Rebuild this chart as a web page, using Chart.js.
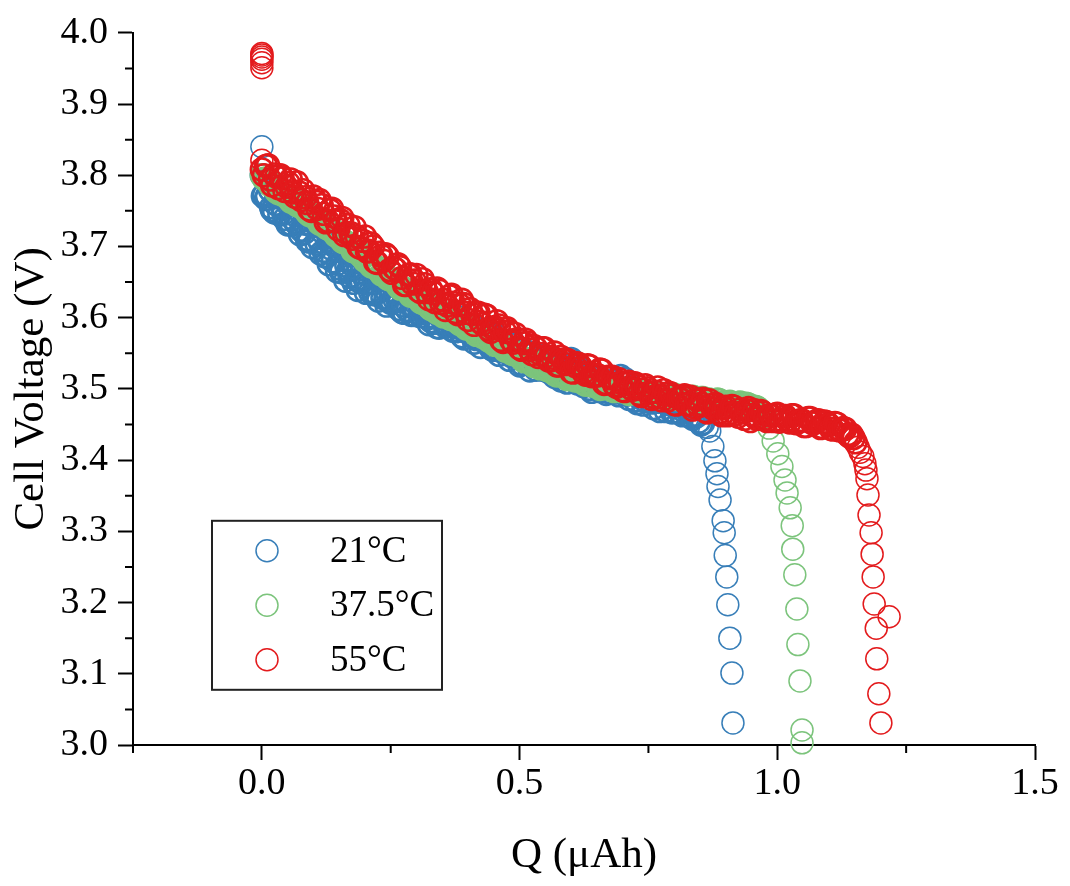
<!DOCTYPE html>
<html><head><meta charset="utf-8">
<script src="https://cdn.jsdelivr.net/npm/chart.js@4.4.1/dist/chart.umd.min.js"></script>
<style>html,body{margin:0;padding:0;background:#fff;}#wrap{width:1070px;height:886px;}</style>
</head><body><div id="wrap"><canvas id="c" width="1070" height="886"></canvas></div>
<script>
// ---- data ----
const seriesNames = ['21°C', '37.5°C', '55°C'];
const seriesColors = ['#377eb8', '#7cc47c', '#e31a1c'];

// Q grids (µAh) for the dense part of each discharge curve
const qGrid = [0,0.008,0.016,0.024,0.032,0.04,0.048,0.056,0.064,0.072,
0.08,0.088,0.096,0.104,0.112,0.12,0.128,0.136,0.144,0.152,
0.16,0.168,0.176,0.184,0.192,0.2,0.208,0.216,0.224,0.232,
0.24,0.248,0.256,0.264,0.272,0.28,0.288,0.296,0.304,0.312,
0.32,0.328,0.336,0.344,0.352,0.36,0.368,0.376,0.384,0.392,
0.4,0.408,0.416,0.424,0.432,0.44,0.448,0.456,0.464,0.472,
0.48,0.488,0.496,0.504,0.512,0.52,0.528,0.536,0.544,0.552,
0.56,0.568,0.576,0.584,0.592,0.6,0.608,0.616,0.624,0.632,
0.64,0.648,0.656,0.664,0.672,0.68,0.688,0.696,0.704,0.712,
0.72,0.728,0.736,0.744,0.752,0.76,0.768,0.776,0.784,0.792,
0.8,0.808,0.816,0.824,0.832,0.84,0.848,0.856,0.864,0.872,
0.88,0.888,0.896,0.904,0.912,0.92,0.928,0.936,0.944,0.952,
0.96,0.968,0.976,0.984,0.992,1,1.008,1.016,1.024,1.032,
1.04,1.048,1.056,1.064,1.072,1.08,1.088,1.096,1.104,1.112,
1.12,1.128,1.136,1.144,1.152];
const qGrid2 = [0.004,0.012,0.02,0.028,0.036,0.044,0.052,0.06,0.068,0.076,
0.084,0.092,0.1,0.108,0.116,0.124,0.132,0.14,0.148,0.156,
0.164,0.172,0.18,0.188,0.196,0.204,0.212,0.22,0.228,0.236,
0.244,0.252,0.26,0.268,0.276,0.284,0.292,0.3,0.308,0.316,
0.324,0.332,0.34,0.348,0.356,0.364,0.372,0.38,0.388,0.396,
0.404,0.412,0.42,0.428,0.436,0.444,0.452,0.46,0.468,0.476,
0.484,0.492,0.5,0.508,0.516,0.524,0.532,0.54,0.548,0.556,
0.564,0.572,0.58,0.588,0.596,0.604,0.612,0.62,0.628,0.636,
0.644,0.652,0.66,0.668,0.676,0.684,0.692,0.7,0.708,0.716,
0.724,0.732,0.74,0.748,0.756,0.764,0.772,0.78,0.788,0.796,
0.804,0.812,0.82,0.828,0.836,0.844,0.852,0.86,0.868,0.876,
0.884,0.892,0.9,0.908,0.916,0.924,0.932,0.94,0.948,0.956,
0.964,0.972,0.98,0.988,0.996,1.004,1.012,1.02,1.028,1.036,
1.044,1.052,1.06,1.068,1.076,1.084,1.092,1.1,1.108,1.116,
1.124,1.132,1.14,1.148];

// 21 °C
const vBlue = [3.800,3.767,3.779,3.748,3.772,3.753,3.770,3.731,3.744,3.750,
3.723,3.708,3.730,3.735,3.707,3.694,3.723,3.696,3.702,3.669,
3.697,3.667,3.678,3.653,3.685,3.654,3.669,3.633,3.653,3.660,
3.628,3.638,3.653,3.623,3.608,3.637,3.625,3.604,3.635,3.607,
3.617,3.595,3.608,3.586,3.606,3.591,3.604,3.581,3.588,3.571,
3.588,3.589,3.570,3.559,3.580,3.567,3.555,3.575,3.553,3.560,
3.541,3.565,3.546,3.535,3.550,3.526,3.543,3.547,3.527,3.531,
3.543,3.517,3.529,3.533,3.509,3.542,3.537,3.527,3.504,3.512,
3.496,3.515,3.497,3.507,3.496,3.511,3.495,3.518,3.514,3.486,
3.497,3.480,3.496,3.483,3.490,3.473,3.482,3.487,3.469,3.479,
3.468,3.479,3.463,3.470,3.461,3.464,3.454,3.452];
const vBlue2 = [3.772,3.794,3.751,3.769,3.774,3.739,3.758,3.739,3.760,3.723,
3.732,3.707,3.736,3.712,3.721,3.686,3.713,3.701,3.676,3.703,
3.673,3.676,3.692,3.652,3.668,3.649,3.669,3.633,3.654,3.641,
3.656,3.623,3.636,3.642,3.607,3.630,3.615,3.635,3.602,3.621,
3.591,3.613,3.587,3.604,3.588,3.605,3.588,3.601,3.574,3.584,
3.588,3.565,3.580,3.568,3.583,3.557,3.566,3.548,3.565,3.565,
3.546,3.552,3.533,3.555,3.536,3.548,3.527,3.539,3.546,3.524,
3.527,3.539,3.512,3.529,3.520,3.529,3.508,3.528,3.508,3.500,
3.516,3.501,3.513,3.493,3.505,3.507,3.491,3.501,3.492,3.503,
3.484,3.490,3.478,3.491,3.481,3.486,3.469,3.483,3.479,3.467,
3.481,3.466,3.468,3.474,3.458,3.462,3.450];
// extra 21 °C points along the lower edge of its band
const qBlue3 = [0.002,0.01,0.018,0.026,0.034,0.042,0.05,0.058,0.066,0.074,
0.082,0.09,0.098,0.106,0.114,0.122,0.13,0.138,0.146,0.154,
0.162,0.17,0.178,0.186,0.194,0.202,0.21,0.218,0.226,0.234,
0.242,0.25,0.258,0.266,0.274,0.282,0.29,0.298,0.306,0.314,
0.322,0.33,0.338,0.346,0.354,0.362,0.37,0.378,0.386,0.394,
0.402,0.41,0.418,0.426,0.434,0.442,0.45,0.458,0.466,0.474,0.482];
const vBlue3 = [3.771,3.771,3.755,3.760,3.745,3.746,3.731,3.731,3.733,3.717,
3.719,3.710,3.699,3.704,3.690,3.687,3.675,3.679,3.665,3.664,
3.652,3.658,3.649,3.639,3.650,3.635,3.636,3.636,3.624,3.628,
3.617,3.621,3.625,3.612,3.617,3.611,3.604,3.613,3.606,3.612,
3.599,3.602,3.593,3.601,3.591,3.595,3.582,3.587,3.591,3.581,
3.582,3.573,3.580,3.572,3.566,3.569,3.558,3.568,3.558,3.561,3.550];
const qBlueEnd = [0,0.864,0.869,0.875,0.879,0.883,0.885,0.889,0.895,0.897,0.899,0.902,0.904,0.908,0.912,0.914];
const vBlueEnd = [3.840,3.446,3.441,3.419,3.399,3.381,3.363,3.344,3.315,3.298,3.266,3.236,3.197,3.150,3.101,3.031];

// 37.5 °C
const vGreen = [3.800,3.795,3.786,3.785,3.775,3.773,3.770,3.763,3.764,3.757,
3.756,3.747,3.745,3.740,3.732,3.733,3.725,3.725,3.715,3.713,
3.706,3.704,3.694,3.693,3.687,3.680,3.680,3.672,3.670,3.661,
3.660,3.654,3.653,3.644,3.642,3.640,3.631,3.631,3.628,3.621,
3.621,3.612,3.611,3.609,3.602,3.604,3.598,3.599,3.591,3.590,
3.585,3.585,3.576,3.577,3.573,3.568,3.569,3.562,3.562,3.554,
3.554,3.549,3.550,3.542,3.540,3.539,3.532,3.533,3.532,3.527,
3.528,3.521,3.521,3.519,3.514,3.517,3.512,3.515,3.508,3.509,
3.505,3.507,3.500,3.503,3.501,3.498,3.502,3.497,3.499,3.493,
3.497,3.494,3.497,3.491,3.493,3.494,3.488,3.492,3.492,3.488,
3.492,3.486,3.487,3.488,3.483,3.488,3.484,3.487,3.482,3.484,
3.481,3.484,3.478,3.481,3.480,3.477,3.481,3.476,3.478,3.472,
3.474,3.469,3.462];
const vGreen2 = [3.795,3.791,3.788,3.777,3.775,3.773,3.767,3.767,3.758,3.757,
3.751,3.744,3.744,3.737,3.736,3.727,3.725,3.719,3.717,3.707,
3.706,3.700,3.693,3.693,3.684,3.682,3.672,3.672,3.665,3.665,
3.655,3.653,3.650,3.641,3.641,3.638,3.631,3.631,3.622,3.621,
3.615,3.615,3.607,3.608,3.604,3.599,3.601,3.594,3.593,3.585,
3.586,3.580,3.581,3.573,3.572,3.570,3.562,3.563,3.558,3.558,
3.550,3.550,3.546,3.539,3.541,3.535,3.537,3.529,3.530,3.526,
3.526,3.519,3.521,3.518,3.514,3.517,3.512,3.513,3.506,3.508,
3.505,3.507,3.501,3.502,3.503,3.497,3.500,3.497,3.500,3.494,
3.497,3.495,3.491,3.495,3.492,3.495,3.489,3.492,3.489,3.491,
3.486,3.489,3.487,3.485,3.489,3.485,3.487,3.481,3.485,3.482,
3.485,3.480,3.481,3.482,3.477,3.480,3.477,3.479,3.473,3.475,
3.472,3.465];
const qGreenEnd = [0.984,0.992,1.001,1.009,1.015,1.019,1.025,1.029,1.030,1.034,1.038,1.040,1.044,1.048,1.048];
const vGreenEnd = [3.445,3.427,3.409,3.391,3.372,3.354,3.333,3.308,3.275,3.239,3.191,3.141,3.090,3.021,3.003];

// 55 °C
const vRed = [3.808,3.813,3.794,3.801,3.782,3.796,3.784,3.794,3.770,3.776,
3.779,3.761,3.750,3.763,3.765,3.746,3.736,3.753,3.735,3.737,
3.716,3.730,3.711,3.714,3.698,3.714,3.694,3.700,3.677,3.687,
3.689,3.667,3.670,3.675,3.656,3.646,3.661,3.652,3.638,3.654,
3.636,3.640,3.622,3.638,3.625,3.617,3.632,3.608,3.618,3.619,
3.597,3.605,3.607,3.594,3.604,3.584,3.585,3.595,3.569,3.580,
3.581,3.565,3.570,3.555,3.569,3.555,3.560,3.545,3.557,3.546,
3.540,3.551,3.533,3.541,3.541,3.524,3.532,3.534,3.523,3.533,
3.518,3.519,3.527,3.507,3.517,3.517,3.503,3.509,3.497,3.510,
3.499,3.504,3.490,3.505,3.495,3.489,3.502,3.484,3.493,3.494,
3.479,3.487,3.489,3.479,3.489,3.474,3.476,3.486,3.467,3.477,
3.479,3.467,3.473,3.463,3.476,3.465,3.471,3.458,3.473,3.463,
3.458,3.469,3.458,3.463,3.455,3.465,3.457,3.462,3.453,3.463,
3.453,3.456,3.448,3.459,3.452,3.456,3.446,3.453,3.444,3.452,
3.442,3.445,3.436,3.436,3.425];
const vRed2 = [3.800,3.814,3.786,3.798,3.800,3.778,3.789,3.776,3.790,3.765,
3.769,3.752,3.770,3.753,3.758,3.734,3.751,3.742,3.724,3.740,
3.719,3.719,3.727,3.699,3.708,3.693,3.704,3.678,3.691,3.680,
3.686,3.663,3.668,3.671,3.646,3.660,3.648,3.660,3.636,3.647,
3.626,3.635,3.641,3.621,3.611,3.630,3.621,3.605,3.625,3.607,
3.612,3.590,3.607,3.591,3.603,3.580,3.587,3.589,3.566,3.585,
3.568,3.577,3.557,3.564,3.565,3.549,3.557,3.549,3.557,3.540,
3.544,3.533,3.545,3.535,3.539,3.523,3.536,3.530,3.520,3.532,
3.519,3.519,3.526,3.508,3.515,3.505,3.514,3.498,3.507,3.501,
3.508,3.493,3.499,3.501,3.486,3.496,3.489,3.498,3.484,3.491,
3.478,3.486,3.491,3.478,3.471,3.485,3.479,3.469,3.484,3.472,
3.476,3.463,3.475,3.466,3.475,3.461,3.467,3.470,3.455,3.470,
3.460,3.467,3.455,3.463,3.464,3.454,3.461,3.457,3.463,3.452,
3.456,3.448,3.459,3.452,3.455,3.445,3.454,3.450,3.443,3.451,
3.442,3.444,3.433,3.431];
const qRedEnd = [0,0,0,0,0,0,0,1.157,1.161,1.166,1.170,1.172,1.174,1.176,1.178,1.182,1.184,1.186,1.188,1.217,1.192,1.193,1.197,1.201];
const vRedEnd = [3.971,3.969,3.966,3.963,3.958,3.951,3.821,3.418,3.411,3.405,3.395,3.386,3.374,3.351,3.323,3.298,3.268,3.236,3.198,3.180,3.164,3.121,3.072,3.031];

// axis ticks
const xMajorTicks = [0.0, 0.5, 1.0, 1.5];
const xMinorTicks = [-0.25, 0.25, 0.75, 1.25];
const yMajorTicks = [3.0, 3.1, 3.2, 3.3, 3.4, 3.5, 3.6, 3.7, 3.8, 3.9, 4.0];
const yMinorTicks = [3.05, 3.15, 3.25, 3.35, 3.45, 3.55, 3.65, 3.75, 3.85, 3.95];

// ---- build chart ----
function pts(q, v, dense) { return v.map((y, i) => ({ x: q[i], y: y, dense: dense })); }
function sortQ(a) { return a.sort((p, r) => p.x - r.x); }
const seriesData = [
  sortQ(pts(qGrid, vBlue, true).concat(pts(qGrid2, vBlue2, true), pts(qBlue3, vBlue3, true))).concat(pts(qBlueEnd, vBlueEnd, false)),
  sortQ(pts(qGrid, vGreen, true).concat(pts(qGrid2, vGreen2, true))).concat(pts(qGreenEnd, vGreenEnd, false)),
  sortQ(pts(qGrid, vRed, true).concat(pts(qGrid2, vRed2, true))).concat(pts(qRedEnd, vRedEnd, false))
];
const FONT = "'Liberation Serif', 'Times New Roman', serif";
const TXT = '#000';

const minorTickPlugin = {
  id: 'minorTicks',
  afterDraw(chart) {
    const { ctx, chartArea, scales } = chart;
    ctx.save();
    ctx.strokeStyle = '#000';
    ctx.lineWidth = 2;
    ctx.beginPath();
    xMinorTicks.forEach(v => { const p = scales.x.getPixelForValue(v); ctx.moveTo(p, chartArea.bottom); ctx.lineTo(p, chartArea.bottom + 8); });
    yMinorTicks.forEach(v => { const p = scales.y.getPixelForValue(v); ctx.moveTo(chartArea.left, p); ctx.lineTo(chartArea.left - 8, p); });
    ctx.stroke();
    ctx.restore();
  }
};

const boxLegendPlugin = {
  id: 'boxLegend',
  afterDraw(chart) {
    const { ctx, chartArea } = chart;
    const x0 = chartArea.left + 79, y0 = chartArea.top + 488, w = 230, h = 169;
    ctx.save();
    ctx.strokeStyle = '#222';
    ctx.lineWidth = 2;
    ctx.strokeRect(x0, y0, w, h);
    chart.data.datasets.forEach((ds, i) => {
      const cy = y0 + 30 + i * 54.5;
      ctx.beginPath();
      ctx.strokeStyle = ds.borderColor;
      ctx.lineWidth = 1.5;
      ctx.arc(x0 + 55, cy, 11, 0, Math.PI * 2);
      ctx.stroke();
      ctx.fillStyle = TXT;
      ctx.font = "37px " + FONT;
      ctx.textBaseline = 'middle';
      ctx.textAlign = 'left';
      ctx.fillText(ds.label, x0 + 118, cy + 1);
    });
    ctx.restore();
  }
};

new Chart(document.getElementById('c'), {
  type: 'scatter',
  data: {
    datasets: seriesNames.map((name, i) => ({
      label: name,
      data: seriesData[i],
      borderColor: seriesColors[i],
      backgroundColor: 'rgba(0,0,0,0)',
      pointRadius: 11,
      pointHoverRadius: 11,
      pointBorderWidth: c => (c.raw && c.raw.dense ? 2.6 : 1.5),
      borderWidth: 1.5,
      showLine: false,
      clip: false,
      order: 3 - i
    }))
  },
  options: {
    responsive: false,
    animation: false,
    layout: { padding: { top: 24, right: 35, left: 0, bottom: 0 } },
    plugins: { legend: { display: false }, tooltip: { enabled: false } },
    scales: {
      x: {
        type: 'linear', min: -0.25, max: 1.5,
        afterBuildTicks: s => { s.ticks = xMajorTicks.map(v => ({ value: v })); },
        afterFit: s => { s.height = 141; },
        ticks: { callback: v => Number(v).toFixed(1), font: { family: FONT, size: 38 }, color: TXT, padding: 1, maxRotation: 0, autoSkip: false },
        grid: { display: true, drawOnChartArea: false, drawTicks: true, tickLength: 15, tickWidth: 2, tickColor: '#000' },
        border: { display: true, color: '#000', width: 2 },
        title: { display: true, text: 'Q (μAh)', font: { family: FONT, size: 43 }, color: TXT, padding: { top: 0, bottom: 4 } }
      },
      y: {
        type: 'linear', min: 3.0, max: 4.0,
        afterBuildTicks: s => { s.ticks = yMajorTicks.map(v => ({ value: v })); },
        afterFit: s => { s.width = 133; },
        ticks: { callback: v => Number(v).toFixed(1), font: { family: FONT, size: 38 }, color: TXT, padding: 10, autoSkip: false },
        grid: { display: true, drawOnChartArea: false, drawTicks: true, tickLength: 15, tickWidth: 2, tickColor: '#000' },
        border: { display: true, color: '#000', width: 2 },
        title: { display: true, text: 'Cell Voltage (V)', font: { family: FONT, size: 43 }, color: TXT, padding: { top: 6, bottom: 0 } }
      }
    }
  },
  plugins: [minorTickPlugin, boxLegendPlugin]
});
</script>
</body></html>
